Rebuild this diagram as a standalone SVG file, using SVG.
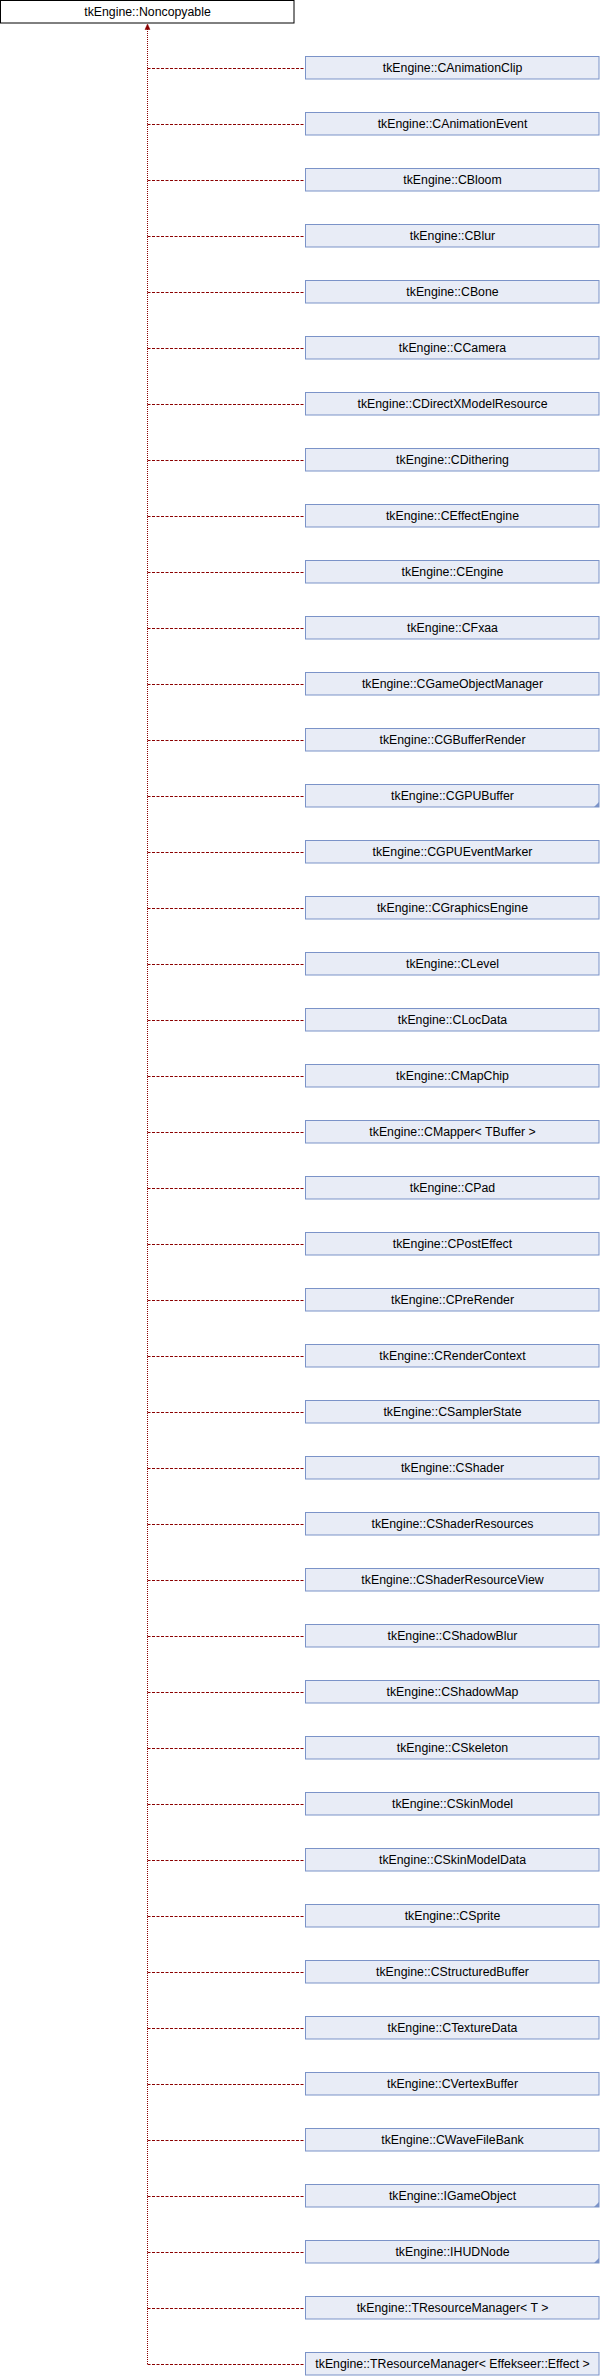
<svg xmlns="http://www.w3.org/2000/svg" width="600" height="2376" viewBox="0 0 600 2376">
<style>
text{font-family:"Liberation Sans",Arial,Helvetica,sans-serif;font-size:12.3px;fill:#000;text-anchor:middle}
.n rect{fill:#e8ecf6;stroke:#7b93c8;stroke-width:1}
.r rect{fill:#fff;stroke:#000;stroke-width:1}
.c path{fill:none;stroke:#8b0000;stroke-width:1}
.h{stroke-dasharray:3,1.5}
.v{stroke-dasharray:1,1}
.t{fill:#7b93c8}
</style>
<g id="connectors" class="c">
<path class="v" d="M147.5,29 V2364.5"/>
<polygon points="147.5,24 145,29.5 150,29.5" fill="#8b0000" stroke="#8b0000" stroke-width="0.5"/>
<path class="h" d="M147.5,68.5H305M147.5,124.5H305M147.5,180.5H305M147.5,236.5H305M147.5,292.5H305M147.5,348.5H305M147.5,404.5H305M147.5,460.5H305M147.5,516.5H305M147.5,572.5H305M147.5,628.5H305M147.5,684.5H305M147.5,740.5H305M147.5,796.5H305M147.5,852.5H305M147.5,908.5H305M147.5,964.5H305M147.5,1020.5H305M147.5,1076.5H305M147.5,1132.5H305M147.5,1188.5H305M147.5,1244.5H305M147.5,1300.5H305M147.5,1356.5H305M147.5,1412.5H305M147.5,1468.5H305M147.5,1524.5H305M147.5,1580.5H305M147.5,1636.5H305M147.5,1692.5H305M147.5,1748.5H305M147.5,1804.5H305M147.5,1860.5H305M147.5,1916.5H305M147.5,1972.5H305M147.5,2028.5H305M147.5,2084.5H305M147.5,2140.5H305M147.5,2196.5H305M147.5,2252.5H305M147.5,2308.5H305M147.5,2364.5H305"/>
</g>
<g id="root" class="r"><rect x="0.5" y="0.5" width="293.5" height="22.5"/><text x="147.5" y="16">tkEngine::Noncopyable</text></g>
<g id="n0" class="n"><rect x="305.5" y="56.5" width="293.5" height="22.5"/><text x="452.5" y="72">tkEngine::CAnimationClip</text></g>
<g id="n1" class="n"><rect x="305.5" y="112.5" width="293.5" height="22.5"/><text x="452.5" y="128">tkEngine::CAnimationEvent</text></g>
<g id="n2" class="n"><rect x="305.5" y="168.5" width="293.5" height="22.5"/><text x="452.5" y="184">tkEngine::CBloom</text></g>
<g id="n3" class="n"><rect x="305.5" y="224.5" width="293.5" height="22.5"/><text x="452.5" y="240">tkEngine::CBlur</text></g>
<g id="n4" class="n"><rect x="305.5" y="280.5" width="293.5" height="22.5"/><text x="452.5" y="296">tkEngine::CBone</text></g>
<g id="n5" class="n"><rect x="305.5" y="336.5" width="293.5" height="22.5"/><text x="452.5" y="352">tkEngine::CCamera</text></g>
<g id="n6" class="n"><rect x="305.5" y="392.5" width="293.5" height="22.5"/><text x="452.5" y="408">tkEngine::CDirectXModelResource</text></g>
<g id="n7" class="n"><rect x="305.5" y="448.5" width="293.5" height="22.5"/><text x="452.5" y="464">tkEngine::CDithering</text></g>
<g id="n8" class="n"><rect x="305.5" y="504.5" width="293.5" height="22.5"/><text x="452.5" y="520">tkEngine::CEffectEngine</text></g>
<g id="n9" class="n"><rect x="305.5" y="560.5" width="293.5" height="22.5"/><text x="452.5" y="576">tkEngine::CEngine</text></g>
<g id="n10" class="n"><rect x="305.5" y="616.5" width="293.5" height="22.5"/><text x="452.5" y="632">tkEngine::CFxaa</text></g>
<g id="n11" class="n"><rect x="305.5" y="672.5" width="293.5" height="22.5"/><text x="452.5" y="688">tkEngine::CGameObjectManager</text></g>
<g id="n12" class="n"><rect x="305.5" y="728.5" width="293.5" height="22.5"/><text x="452.5" y="744">tkEngine::CGBufferRender</text></g>
<g id="n13" class="n"><rect x="305.5" y="784.5" width="293.5" height="22.5"/><polygon class="t" points="599,802 599,807 594,807"/><text x="452.5" y="800">tkEngine::CGPUBuffer</text></g>
<g id="n14" class="n"><rect x="305.5" y="840.5" width="293.5" height="22.5"/><text x="452.5" y="856">tkEngine::CGPUEventMarker</text></g>
<g id="n15" class="n"><rect x="305.5" y="896.5" width="293.5" height="22.5"/><text x="452.5" y="912">tkEngine::CGraphicsEngine</text></g>
<g id="n16" class="n"><rect x="305.5" y="952.5" width="293.5" height="22.5"/><text x="452.5" y="968">tkEngine::CLevel</text></g>
<g id="n17" class="n"><rect x="305.5" y="1008.5" width="293.5" height="22.5"/><text x="452.5" y="1024">tkEngine::CLocData</text></g>
<g id="n18" class="n"><rect x="305.5" y="1064.5" width="293.5" height="22.5"/><text x="452.5" y="1080">tkEngine::CMapChip</text></g>
<g id="n19" class="n"><rect x="305.5" y="1120.5" width="293.5" height="22.5"/><text x="452.5" y="1136">tkEngine::CMapper&lt; TBuffer &gt;</text></g>
<g id="n20" class="n"><rect x="305.5" y="1176.5" width="293.5" height="22.5"/><text x="452.5" y="1192">tkEngine::CPad</text></g>
<g id="n21" class="n"><rect x="305.5" y="1232.5" width="293.5" height="22.5"/><text x="452.5" y="1248">tkEngine::CPostEffect</text></g>
<g id="n22" class="n"><rect x="305.5" y="1288.5" width="293.5" height="22.5"/><text x="452.5" y="1304">tkEngine::CPreRender</text></g>
<g id="n23" class="n"><rect x="305.5" y="1344.5" width="293.5" height="22.5"/><text x="452.5" y="1360">tkEngine::CRenderContext</text></g>
<g id="n24" class="n"><rect x="305.5" y="1400.5" width="293.5" height="22.5"/><text x="452.5" y="1416">tkEngine::CSamplerState</text></g>
<g id="n25" class="n"><rect x="305.5" y="1456.5" width="293.5" height="22.5"/><text x="452.5" y="1472">tkEngine::CShader</text></g>
<g id="n26" class="n"><rect x="305.5" y="1512.5" width="293.5" height="22.5"/><text x="452.5" y="1528">tkEngine::CShaderResources</text></g>
<g id="n27" class="n"><rect x="305.5" y="1568.5" width="293.5" height="22.5"/><text x="452.5" y="1584">tkEngine::CShaderResourceView</text></g>
<g id="n28" class="n"><rect x="305.5" y="1624.5" width="293.5" height="22.5"/><text x="452.5" y="1640">tkEngine::CShadowBlur</text></g>
<g id="n29" class="n"><rect x="305.5" y="1680.5" width="293.5" height="22.5"/><text x="452.5" y="1696">tkEngine::CShadowMap</text></g>
<g id="n30" class="n"><rect x="305.5" y="1736.5" width="293.5" height="22.5"/><text x="452.5" y="1752">tkEngine::CSkeleton</text></g>
<g id="n31" class="n"><rect x="305.5" y="1792.5" width="293.5" height="22.5"/><text x="452.5" y="1808">tkEngine::CSkinModel</text></g>
<g id="n32" class="n"><rect x="305.5" y="1848.5" width="293.5" height="22.5"/><text x="452.5" y="1864">tkEngine::CSkinModelData</text></g>
<g id="n33" class="n"><rect x="305.5" y="1904.5" width="293.5" height="22.5"/><text x="452.5" y="1920">tkEngine::CSprite</text></g>
<g id="n34" class="n"><rect x="305.5" y="1960.5" width="293.5" height="22.5"/><text x="452.5" y="1976">tkEngine::CStructuredBuffer</text></g>
<g id="n35" class="n"><rect x="305.5" y="2016.5" width="293.5" height="22.5"/><text x="452.5" y="2032">tkEngine::CTextureData</text></g>
<g id="n36" class="n"><rect x="305.5" y="2072.5" width="293.5" height="22.5"/><text x="452.5" y="2088">tkEngine::CVertexBuffer</text></g>
<g id="n37" class="n"><rect x="305.5" y="2128.5" width="293.5" height="22.5"/><text x="452.5" y="2144">tkEngine::CWaveFileBank</text></g>
<g id="n38" class="n"><rect x="305.5" y="2184.5" width="293.5" height="22.5"/><polygon class="t" points="599,2202 599,2207 594,2207"/><text x="452.5" y="2200">tkEngine::IGameObject</text></g>
<g id="n39" class="n"><rect x="305.5" y="2240.5" width="293.5" height="22.5"/><polygon class="t" points="599,2258 599,2263 594,2263"/><text x="452.5" y="2256">tkEngine::IHUDNode</text></g>
<g id="n40" class="n"><rect x="305.5" y="2296.5" width="293.5" height="22.5"/><text x="452.5" y="2312">tkEngine::TResourceManager&lt; T &gt;</text></g>
<g id="n41" class="n"><rect x="305.5" y="2352.5" width="293.5" height="22.5"/><text x="452.5" y="2368">tkEngine::TResourceManager&lt; Effekseer::Effect &gt;</text></g>
</svg>
